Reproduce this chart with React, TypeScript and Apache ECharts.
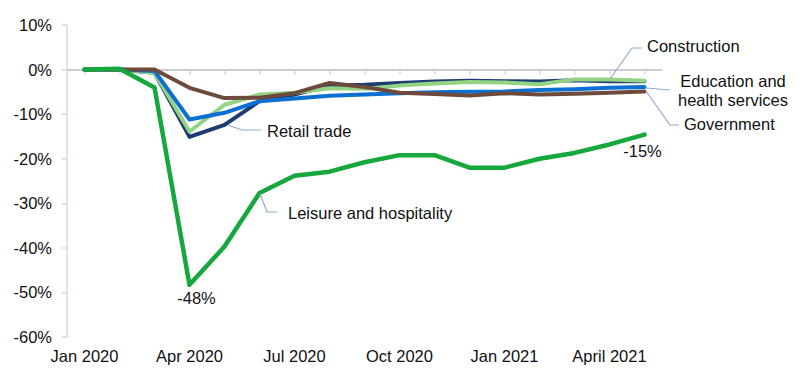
import React, { useEffect, useRef } from "react";
import * as echarts from "echarts";

const months = [
  "Jan 2020", "Feb 2020", "Mar 2020", "Apr 2020", "May 2020", "Jun 2020",
  "Jul 2020", "Aug 2020", "Sep 2020", "Oct 2020", "Nov 2020", "Dec 2020",
  "Jan 2021", "Feb 2021", "Mar 2021", "April 2021", "May 2021",
];

const retail = [0, 0, -0.7, -15.1, -12.4, -7.1, -5.6, -3.6, -3.4, -3.0, -2.7, -2.5, -2.6, -2.7, -2.4, -2.6, -2.6];
const construction = [0, 0, -0.7, -13.9, -7.9, -5.6, -5.2, -4.2, -4.3, -3.6, -3.1, -2.8, -2.9, -3.3, -2.2, -2.2, -2.5];
const education = [0, 0, -0.3, -11.2, -9.7, -7.1, -6.5, -5.9, -5.6, -5.3, -5.1, -5.0, -4.9, -4.6, -4.4, -4.1, -3.9];
const government = [0, 0, 0, -4.1, -6.4, -6.3, -5.3, -3.0, -3.9, -5.2, -5.5, -5.8, -5.3, -5.6, -5.4, -5.2, -4.9];
const leisure = [0, 0.2, -4.0, -48.3, -39.7, -27.7, -23.8, -22.9, -20.8, -19.2, -19.2, -22.0, -22.0, -20.0, -18.7, -16.8, -14.6];

const yTicks = { min: -60, max: 10, interval: 10 };
const labelledPoints: Record<number, { text: string; offset: number[] }> = {
  3: { text: "-48%", offset: [7, 0] },
  16: { text: "-15%", offset: [-2, 3] },
};

const FONT = 'Arial, "Liberation Sans", sans-serif';
const TEXT = "#111111";
const LEADER = "#8eaacb";

export default function App() {
  const ref = useRef<HTMLDivElement>(null);
  useEffect(() => {
    if (!ref.current) return;
    const chart = echarts.init(ref.current, undefined, { renderer: "svg" });

    const mk = (name: string, data: any[], color: string, z: number, width = 4) => ({
      name,
      type: "line",
      data,
      symbol: "none",
      z,
      lineStyle: { color, width, cap: "round", join: "round" },
      itemStyle: { color },
    });

    const leisureData = leisure.map((v, i) =>
      labelledPoints[i]
        ? {
            value: v,
            label: {
              show: true,
              position: "bottom",
              distance: 5,
              offset: labelledPoints[i].offset,
              formatter: labelledPoints[i].text,
              color: TEXT,
              fontSize: 16.5,
              fontFamily: FONT,
            },
          }
        : v
    );

    const t = (text: string, x: number, y: number, align = "left") => ({
      type: "text",
      x,
      y,
      style: {
        text,
        fill: TEXT,
        font: `16.5px ${FONT}`,
        align,
        verticalAlign: "middle",
        lineHeight: 19,
      },
      z: 100,
    });
    const l = (points: number[][]) => ({
      type: "polyline",
      shape: { points },
      style: { stroke: LEADER, lineWidth: 1.2, fill: "none" },
      z: 100,
    });

    chart.setOption({
      animation: false,
      backgroundColor: "#ffffff",
      grid: { left: 67, right: 138, top: 25, bottom: 38 },
      xAxis: {
        type: "category",
        data: months,
        boundaryGap: true,
        axisLine: { show: true, lineStyle: { color: "#d3d9e2", width: 1.5 } },
        axisTick: {
          show: true,
          alignWithLabel: true,
          interval: 0,
          length: 5,
          lineStyle: { color: "#d3d9e2", width: 1.5 },
        },
        axisLabel: {
          interval: 2,
          margin: 10,
          color: TEXT,
          fontSize: 16.5,
          fontFamily: FONT,
        },
        splitLine: { show: false },
      },
      yAxis: {
        type: "value",
        min: yTicks.min,
        max: yTicks.max,
        interval: yTicks.interval,
        axisLine: { show: true, lineStyle: { color: "#d3d9e2", width: 1.5 } },
        axisTick: { show: true, length: 5, lineStyle: { color: "#d3d9e2", width: 1.5 } },
        axisLabel: {
          formatter: "{value}%",
          margin: 15,
          color: TEXT,
          fontSize: 16.5,
          fontFamily: FONT,
        },
        splitLine: { show: false },
      },
      series: [
        {
          ...mk("Retail trade", retail, "#1d3c72", 2),
          markLine: {
            silent: true,
            symbol: "none",
            label: { show: false },
            lineStyle: { color: "#c4c6ca", width: 1.5, type: "solid" },
            data: [{ yAxis: 0 }],
            z: 1,
          },
        },
        mk("Construction", construction, "#93d383", 3),
        mk("Education and health services", education, "#0c6fd2", 4),
        mk("Government", government, "#6d4a3c", 5),
        {
          ...mk("Leisure and hospitality", leisureData, "#16a83d", 6, 4.5),
          symbol: "circle",
          symbolSize: 0,
          showSymbol: true,
          showAllSymbol: true,
        },
      ],
      graphic: [
        l([[228, 125], [242, 130], [261, 130]]),
        t("Retail trade", 267, 131),
        l([[260, 194], [267, 212], [277, 212]]),
        t("Leisure and hospitality", 288, 213),
        l([[610, 79], [632, 48], [642, 48]]),
        t("Construction", 647, 46),
        l([[646, 88], [670, 90]]),
        t("Education and\nhealth services", 733, 90, "center"),
        l([[646, 91], [670, 125], [679, 125]]),
        t("Government", 684, 124),
      ],
    });

    return () => chart.dispose();
  }, []);

  return (
    <div
      ref={ref}
      style={{ position: "fixed", left: 0, top: 0, width: 800, height: 375, background: "#fff" }}
    />
  );
}
